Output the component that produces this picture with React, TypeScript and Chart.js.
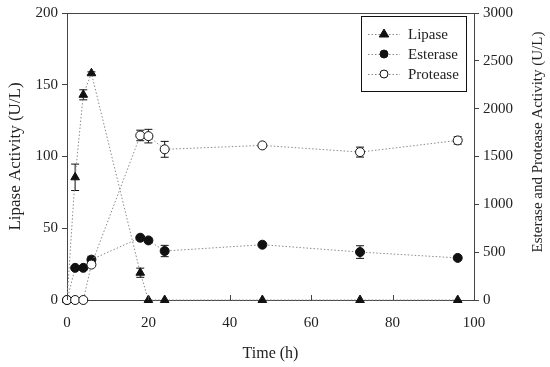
import React, { useEffect, useRef } from 'react';
import { Chart, registerables } from 'chart.js';

Chart.register(...registerables);

// ---- data ----
const timeHours = [0, 2, 4, 6, 18, 20, 24, 48, 72, 96];
const lipaseValues = [0, 85.5, 143, 158, 19, 0, 0, 0, 0, 0];
const lipaseErrors = [0, 9.2, 3.5, 1, 3.2, 0, 0, 0, 0, 0];
const esteraseValues = [0, 336, 336, 422, 651, 623, 512, 578, 501, 440];
const esteraseErrors = [0, 15, 15, 35, 0, 0, 59, 0, 66, 0];
const proteaseValues = [0, 0, 0, 370, 1720, 1713, 1575, 1616, 1546, 1668];
const proteaseErrors = [0, 0, 0, 0, 55, 71, 83, 0, 52, 38];
const seriesNames = ['Lipase', 'Esterase', 'Protease'];
const xTicks = [0, 20, 40, 60, 80, 100];

const FONT = '"Liberation Serif", "Times New Roman", serif';
const TEXT = '#222';
const AXIS = '#444';
const LINE = '#8a8a8a';

export default function App() {
  const ref = useRef<HTMLCanvasElement>(null);

  useEffect(() => {
    const canvas = ref.current!;
    const pts = (vals: number[]) => timeHours.map((t, i) => ({ x: t, y: vals[i] }));

    const errorBars = {
      id: 'errorBars',
      beforeDatasetsDraw(chart: any) {
        const ctx = chart.ctx;
        ctx.save();
        ctx.strokeStyle = '#111';
        ctx.lineWidth = 1;
        chart.data.datasets.forEach((ds: any, di: number) => {
          const meta = chart.getDatasetMeta(di);
          const ys = chart.scales[meta.yAxisID];
          const errs: number[] = ds.errors || [];
          meta.data.forEach((el: any, i: number) => {
            const e = errs[i];
            if (!e) return;
            const v = ds.data[i].y;
            const top = ys.getPixelForValue(v + e);
            const bot = ys.getPixelForValue(v - e);
            const x = el.x;
            ctx.beginPath();
            ctx.moveTo(x, top);
            ctx.lineTo(x, bot);
            ctx.moveTo(x - 4, top);
            ctx.lineTo(x + 4, top);
            ctx.moveTo(x - 4, bot);
            ctx.lineTo(x + 4, bot);
            ctx.stroke();
          });
        });
        ctx.restore();
      },
    };

    const decorations = {
      id: 'decorations',
      afterDraw(chart: any) {
        const ctx = chart.ctx;
        const ca = chart.chartArea;
        const xs = chart.scales.x;
        ctx.save();
        // top frame
        ctx.strokeStyle = AXIS;
        ctx.lineWidth = 1;
        ctx.beginPath();
        ctx.moveTo(ca.left, ca.top + 0.5);
        ctx.lineTo(ca.right, ca.top + 0.5);
        ctx.stroke();
        // inward x ticks
        xTicks.forEach((t) => {
          const px = Math.round(xs.getPixelForValue(t)) + 0.5;
          ctx.beginPath();
          ctx.moveTo(px, ca.bottom);
          ctx.lineTo(px, ca.bottom - 5);
          ctx.stroke();
        });
        // right title (reads bottom to top)
        ctx.fillStyle = TEXT;
        ctx.font = `15px ${FONT}`;
        ctx.textAlign = 'center';
        ctx.textBaseline = 'middle';
        ctx.translate(538, 142);
        ctx.rotate(-Math.PI / 2);
        ctx.fillText('Esterase and Protease Activity (U/L)', 0, 0);
        ctx.restore();

        // legend
        ctx.save();
        ctx.strokeStyle = '#111';
        ctx.lineWidth = 1;
        ctx.strokeRect(361.5, 16.5, 105, 75);
        const rows = [34, 54, 74];
        const styles = [
          { style: 'triangle', fill: '#111', r: 4 },
          { style: 'circle', fill: '#111', r: 4 },
          { style: 'circle', fill: '#fff', r: 4 },
        ];
        rows.forEach((y, i) => {
          ctx.save();
          ctx.strokeStyle = LINE;
          ctx.setLineDash([1.5, 2]);
          ctx.beginPath();
          ctx.moveTo(368, y + 0.5);
          ctx.lineTo(400, y + 0.5);
          ctx.stroke();
          ctx.restore();
          ctx.fillStyle = styles[i].fill;
          ctx.strokeStyle = '#111';
          ctx.lineWidth = 1;
          const cx = 384;
          ctx.beginPath();
          if (styles[i].style === 'triangle') {
            const r = 5;
            ctx.moveTo(cx, y - r);
            ctx.lineTo(cx + r * 0.95, y + r * 0.6);
            ctx.lineTo(cx - r * 0.95, y + r * 0.6);
            ctx.closePath();
          } else {
            ctx.arc(cx, y, styles[i].r, 0, Math.PI * 2);
          }
          ctx.fill();
          ctx.stroke();
          ctx.fillStyle = TEXT;
          ctx.font = `15px ${FONT}`;
          ctx.textAlign = 'left';
          ctx.textBaseline = 'middle';
          ctx.fillText(seriesNames[i], 408, y + 1);
        });
        ctx.restore();
      },
    };

    const lineBase = {
      showLine: true,
      borderColor: LINE,
      borderWidth: 1,
      borderDash: [1.5, 2],
      pointBorderColor: '#111',
      pointBorderWidth: 1,
      clip: false as any,
    };

    const chart = new Chart(canvas, {
      type: 'scatter',
      data: {
        datasets: [
          {
            ...lineBase,
            label: seriesNames[0],
            data: pts(lipaseValues),
            errors: lipaseErrors,
            yAxisID: 'y',
            pointStyle: 'triangle',
            pointRadius: 5,
            pointBackgroundColor: '#111',
            order: 3,
          } as any,
          {
            ...lineBase,
            label: seriesNames[1],
            data: pts(esteraseValues),
            errors: esteraseErrors,
            yAxisID: 'y2',
            pointStyle: 'circle',
            pointRadius: 4.5,
            pointBackgroundColor: '#111',
            order: 2,
          } as any,
          {
            ...lineBase,
            label: seriesNames[2],
            data: pts(proteaseValues),
            errors: proteaseErrors,
            yAxisID: 'y2',
            pointStyle: 'circle',
            pointRadius: 4.5,
            pointBackgroundColor: '#fff',
            order: 1,
          } as any,
        ],
      },
      options: {
        responsive: false,
        animation: false,
        events: [],
        layout: { padding: { top: 11, left: 0, right: 0, bottom: 0 } },
        plugins: {
          legend: { display: false },
          tooltip: { enabled: false },
        },
        scales: {
          x: {
            type: 'linear',
            position: 'bottom',
            min: 0,
            max: 100,
            ticks: {
              stepSize: 20,
              color: TEXT,
              font: { family: FONT, size: 15 },
              padding: 14,
              maxRotation: 0,
              callback: (v: any) => String(v),
            },
            grid: { display: false, drawTicks: false },
            border: { display: true, color: AXIS, width: 1 },
            title: {
              display: true,
              text: 'Time (h)',
              color: TEXT,
              font: { family: FONT, size: 16 },
              padding: { top: 0, bottom: 4 },
            },
            afterFit: (s: any) => {
              s.height = 67;
            },
          },
          y: {
            type: 'linear',
            position: 'left',
            min: 0,
            max: 200,
            ticks: {
              stepSize: 50,
              color: TEXT,
              font: { family: FONT, size: 15 },
              padding: 4,
              callback: (v: any) => String(v),
            },
            grid: { drawOnChartArea: false, drawTicks: true, tickLength: 5, color: AXIS },
            border: { display: true, color: AXIS, width: 1 },
            title: {
              display: true,
              text: 'Lipase Activity (U/L)',
              color: TEXT,
              font: { family: FONT, size: 17 },
              padding: { top: 5, bottom: 0 },
            },
            afterFit: (s: any) => {
              s.width = 67;
            },
          },
          y2: {
            type: 'linear',
            position: 'right',
            min: 0,
            max: 3000,
            ticks: {
              stepSize: 500,
              color: TEXT,
              font: { family: FONT, size: 15 },
              padding: 4,
              callback: (v: any) => String(v),
            },
            grid: { drawOnChartArea: false, drawTicks: true, tickLength: 5, color: AXIS },
            border: { display: true, color: AXIS, width: 1 },
            title: { display: false },
            afterFit: (s: any) => {
              s.width = 76;
            },
          },
        },
      } as any,
      plugins: [errorBars, decorations],
    });

    return () => chart.destroy();
  }, []);

  return (
    <div style={{ position: 'absolute', left: 0, top: 0, width: 550, height: 367, background: '#fff' }}>
      <canvas ref={ref} width={550} height={367} style={{ display: 'block' }} />
    </div>
  );
}
